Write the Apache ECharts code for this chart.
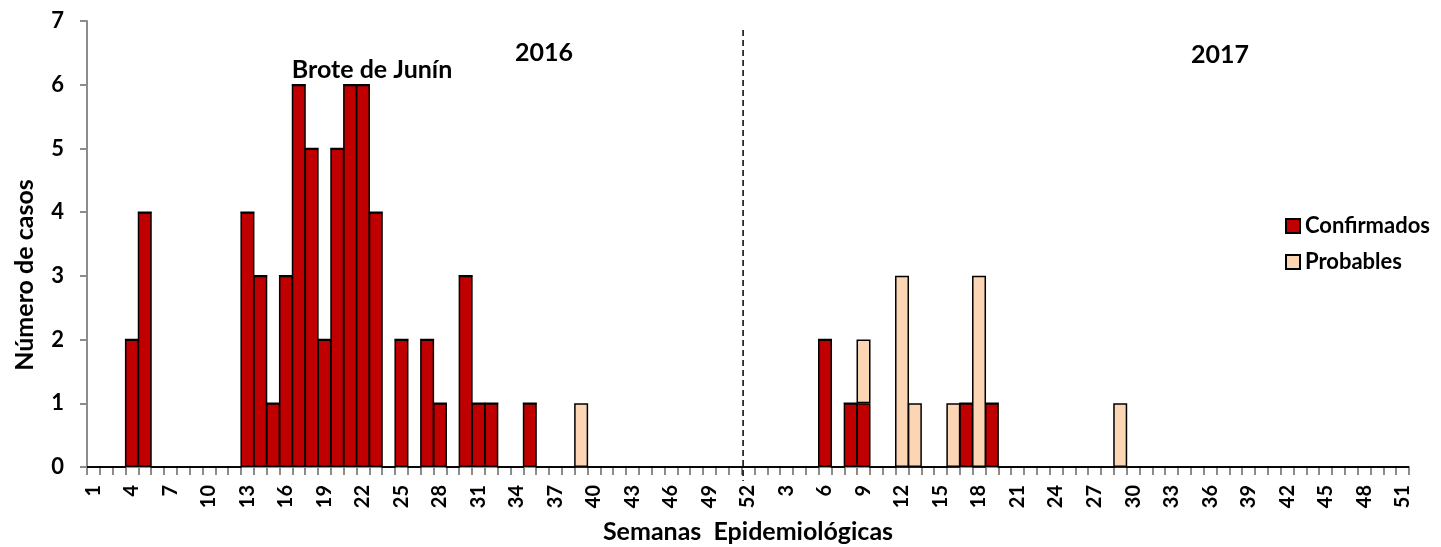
<!DOCTYPE html>
<html>
<head>
<meta charset="utf-8">
<script src="https://cdn.jsdelivr.net/npm/echarts@6/dist/echarts.min.js"></script>
<style>html,body{margin:0;padding:0;background:#fff;}#c{width:1441px;height:547px;}</style>
</head>
<body>
<div id="c"></div>
<script>
// Category labels: epidemiological weeks 2016 (1-52) and 2017 (1-51)
var weeks2016 = [1,2,3,4,5,6,7,8,9,10,11,12,13,14,15,16,17,18,19,20,21,22,23,24,25,26,27,28,29,30,31,32,33,34,35,36,37,38,39,40,41,42,43,44,45,46,47,48,49,50,51,52];
var weeks2017 = [1,2,3,4,5,6,7,8,9,10,11,12,13,14,15,16,17,18,19,20,21,22,23,24,25,26,27,28,29,30,31,32,33,34,35,36,37,38,39,40,41,42,43,44,45,46,47,48,49,50,51];

// Confirmed cases
var confirmed2016 = [0,0,0,2,4,0,0,0,0,0, 0,0,4,3,1,3,6,5,2,5, 6,6,4,0,2,0,2,1,0,3, 1,1,0,0,1,0,0,0,0,0, 0,0,0,0,0,0,0,0,0,0, 0,0];
var confirmed2017 = [0,0,0,0,0,2,0,1,1,0, 0,0,0,0,0,0,1,0,1,0, 0,0,0,0,0,0,0,0,0,0, 0,0,0,0,0,0,0,0,0,0, 0,0,0,0,0,0,0,0,0,0, 0];
// Probable cases
var probable2016 = [0,0,0,0,0,0,0,0,0,0, 0,0,0,0,0,0,0,0,0,0, 0,0,0,0,0,0,0,0,0,0, 0,0,0,0,0,0,0,0,1,0, 0,0,0,0,0,0,0,0,0,0, 0,0];
var probable2017 = [0,0,0,0,0,0,0,0,1,0, 0,3,1,0,0,1,0,3,0,0, 0,0,0,0,0,0,0,0,1,0, 0,0,0,0,0,0,0,0,0,0, 0,0,0,0,0,0,0,0,0,0, 0];

var yTicks = [0,1,2,3,4,5,6,7];

var categories = weeks2016.map(String).concat(weeks2017.map(String));
var confirmed = confirmed2016.concat(confirmed2017);
var probable = probable2016.concat(probable2017);

var FONT = 'Lato';
var chart = echarts.init(document.getElementById('c'));
var option = {
  animation: false,
  textStyle: {fontFamily: FONT},
  grid: {left: 87, right: 32, top: 21, bottom: 80, containLabel: false, outerBoundsMode: 'none'},
  legend: {
    orient: 'vertical', left: 1280, top: 210, itemGap: 14,
    itemWidth: 14, itemHeight: 14, icon: 'rect',
    textStyle: {fontFamily: FONT, fontWeight: 'bold', fontSize: 22, color: '#000', lineHeight: 22},
    data: ['Confirmados', 'Probables']
  },
  xAxis: {
    type: 'category', data: categories,
    axisLine: {lineStyle: {color: '#8c8c8c', width: 2}},
    axisTick: {show: true, interval: 0, alignWithLabel: false, inside: false, length: 8, lineStyle: {color: '#8c8c8c', width: 2}},
    axisLabel: {interval: 2, rotate: 90, fontFamily: FONT, fontWeight: 'bold', fontSize: 20, color: '#000', margin: 18}
  },
  yAxis: {
    type: 'value', min: 0, max: 7, interval: 1,
    splitLine: {show: false},
    axisLine: {show: true, lineStyle: {color: '#8c8c8c', width: 2}},
    axisTick: {show: true, inside: false, length: 7, lineStyle: {color: '#8c8c8c', width: 2}},
    axisLabel: {fontFamily: FONT, fontWeight: 'bold', fontSize: 22, color: '#000', margin: 23,
      formatter: function (v) { return yTicks.indexOf(v) >= 0 ? String(v) : ''; }}
  },
  series: [
    {name: 'Confirmados', type: 'bar', stack: 'casos', data: confirmed,
     barWidth: 14,
     itemStyle: {color: '#C00000', borderColor: '#000', borderWidth: 1.5}},
    {name: 'Probables', type: 'bar', stack: 'casos', data: probable,
     barWidth: 14,
     itemStyle: {color: '#FCD5B5', borderColor: '#000', borderWidth: 1.5}}
  ]
};
chart.setOption(option);

// Year divider and annotations
var p50 = chart.convertToPixel({xAxisIndex: 0}, 50);
var p51 = chart.convertToPixel({xAxisIndex: 0}, 51);
var xDiv = (p50 + p51) / 2 + 1.5;
chart.setOption({
  graphic: [
    {type: 'line', shape: {x1: xDiv, y1: 30, x2: xDiv, y2: 481},
     style: {stroke: '#000', lineWidth: 1.5, lineDash: [6, 4]}, z: 10},
    {type: 'text', x: 25, y: 275, rotation: Math.PI / 2,
     style: {text: 'Número de casos', fontFamily: FONT, fontWeight: 'bold', fontSize: 25, fill: '#000', align: 'center', verticalAlign: 'middle'}},
    {type: 'text', x: 748, y: 532,
     style: {text: 'Semanas  Epidemiológicas', fontFamily: FONT, fontWeight: 'bold', fontSize: 25, fill: '#000', align: 'center', verticalAlign: 'middle'}},
    {type: 'text', x: 372, y: 70, style: {text: 'Brote de Junín', fontFamily: FONT, fontWeight: 'bold', fontSize: 25, fill: '#000', align: 'center', verticalAlign: 'middle'}},
    {type: 'text', x: 544, y: 53, style: {text: '2016', fontFamily: FONT, fontWeight: 'bold', fontSize: 25, fill: '#000', align: 'center', verticalAlign: 'middle'}},
    {type: 'text', x: 1220, y: 55, style: {text: '2017', fontFamily: FONT, fontWeight: 'bold', fontSize: 25, fill: '#000', align: 'center', verticalAlign: 'middle'}}
  ]
});
</script>
</body>
</html>
